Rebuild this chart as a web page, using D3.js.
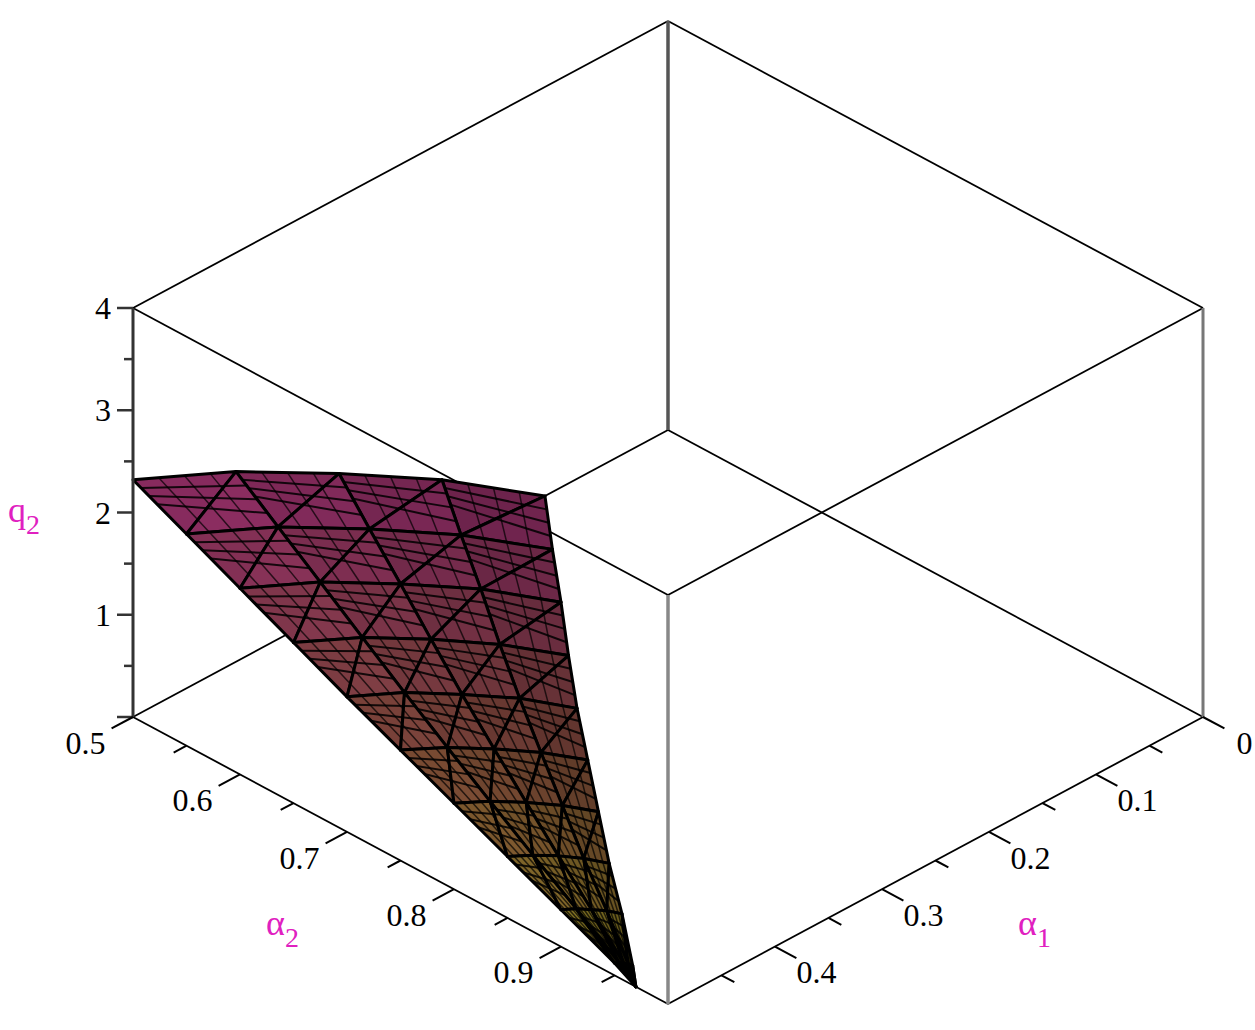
<!DOCTYPE html>
<html><head><meta charset="utf-8">
<script src="https://cdn.jsdelivr.net/npm/d3@7"></script>
<style>body{margin:0;background:#fff}</style></head>
<body><svg id="c" width="1255" height="1030"></svg>
<script>
// ---- data ----
const alpha2Rows = [0.50,0.55,0.60,0.65,0.70,0.75,0.80,0.85,0.90,0.95,0.97];
// alpha1 where the surface meets q2 = 0, per alpha2 row
const alpha1Zero = [0.115,0.158,0.200,0.243,0.285,0.325,0.365,0.405,0.443,0.483,0.500];
// q2 values per row, at 5 evenly spaced alpha1 from alpha1Zero to 0.5
const q2Grid = [
 [0,0.70,1.30,1.86,2.32],
 [0,0.62,1.16,1.66,2.07],
 [0,0.55,1.02,1.46,1.82],
 [0,0.47,0.88,1.26,1.57],
 [0,0.40,0.74,1.06,1.32],
 [0,0.32,0.60,0.86,1.08],
 [0,0.25,0.47,0.67,0.84],
 [0,0.18,0.34,0.48,0.60],
 [0,0.11,0.20,0.29,0.36],
 [0,0.04,0.07,0.10,0.12],
 [0,0,0,0,0]
];
const zTicks = [1,2,3,4];
const a1Ticks = [0,0.1,0.2,0.3,0.4];
const a2Ticks = [0.5,0.6,0.7,0.8,0.9];

const svg = d3.select("#c");
const su = d3.scaleLinear().domain([0.5,1]).range([0,1]);
const sv = d3.scaleLinear().domain([0,0.5]).range([0,1]);
const sz = d3.scaleLinear().domain([0,4]).range([0,409]);
function P(a1,a2,z){const u=su(a2),v=sv(a1);return [668+535*(u-v),430+287*(u+v)-sz(z)];}
const line=(a,b,st,w)=>svg.append("line").attr("x1",a[0]).attr("y1",a[1]).attr("x2",b[0]).attr("y2",b[1]).attr("stroke",st).attr("stroke-width",w);

// box
const C=[[0,0.5],[0.5,0.5],[0.5,1],[0,1]];
for(let i=0;i<4;i++){const a=C[i],b=C[(i+1)%4];
  line(P(a[0],a[1],0),P(b[0],b[1],0),"#000",1.8);
  line(P(a[0],a[1],4),P(b[0],b[1],4),"#000",1.8);
}
line(P(0,0.5,0),P(0,0.5,4),"#555",3.5);
line(P(0,1,0),P(0,1,4),"#777",3);

// surface
const cTop=d3.interpolateRgb("#8e2a66","#7a4636"), cBot=d3.interpolateRgb("#7a4636","#8c8a1e");
function col(t,s){const c=d3.color(t<0.5?cTop(t*2):cBot((t-0.5)*2));return c.darker(0.8*(1-s)).toString();}
const g=svg.append("g");
const pts=alpha2Rows.map((a2,i)=>q2Grid[i].map((z,j)=>{const a1=alpha1Zero[i]+j/4*(0.5-alpha1Zero[i]);return P(a1,a2,z);}));
const lerp=(a,b,f)=>[a[0]+(b[0]-a[0])*f,a[1]+(b[1]-a[1])*f];
for(let i=0;i<alpha2Rows.length-1;i++)for(let j=0;j<4;j++){
  const p00=pts[i][j],p01=pts[i][j+1],p10=pts[i+1][j],p11=pts[i+1][j+1];
  const t=(i+0.5)/(alpha2Rows.length-1), s=(j+0.5)/4;
  [[p00,p01,p11],[p00,p11,p10]].forEach((tri,k)=>{
    g.append("path").attr("d","M"+tri.join("L")+"Z").attr("fill",col(t,s+0.1*k))
     .attr("stroke","#000").attr("stroke-width",3).attr("stroke-linejoin","round");
  });
  for(let h=1;h<4;h++){const f=h/4;
    line(lerp(p00,p10,f),lerp(p01,p11,f*0.6),"#000",2).attr("opacity",0.85);
    line(lerp(p00,p01,f),lerp(p10,p11,f),"#000",1.5).attr("opacity",0.7);
  }
}
// front vertical edge
line(P(0.5,1,0),P(0.5,1,4),"#888",3.5);

// z axis (left vertical edge)
line(P(0.5,0.5,0),P(0.5,0.5,4),"#333",3);
const font="'Liberation Serif', 'DejaVu Serif', serif";
for(let k=0;k<=8;k++){const z=k*0.5,p=P(0.5,0.5,z);line(p,[p[0]-(k%2?9:16),p[1]],"#333",2.5);}
zTicks.forEach(z=>{const p=P(0.5,0.5,z);svg.append("text").attr("x",p[0]-22).attr("y",p[1]+11).attr("text-anchor","end").attr("font-family",font).attr("font-size",32).text(z);});
// alpha2 axis ticks
for(let k=0;k<10;k++){const a=0.5+k*0.05,p=P(0.5,a,0),q=P(0.5+(k%2?0.012:0.02),a,0);line(p,q,"#000",2);}
a2Ticks.forEach(a=>{const p=P(0.5+0.05,a,0);svg.append("text").attr("x",p[0]+6).attr("y",p[1]+8).attr("text-anchor","middle").attr("font-family",font).attr("font-size",32).text(a);});
// alpha1 axis ticks
for(let k=0;k<10;k++){const a=k*0.05,p=P(a,1,0),q=P(a,1+(k%2?0.012:0.02),0);line(p,q,"#000",2);}
a1Ticks.forEach(a=>{const p=P(a,1.05,0);svg.append("text").attr("x",p[0]-12).attr("y",p[1]+8).attr("text-anchor","middle").attr("font-family",font).attr("font-size",32).text(a);});
// axis titles
function title(x,y,base,sub){const t=svg.append("text").attr("x",x).attr("y",y).attr("fill","#e020c0").attr("font-family",font).attr("font-size",36);
 t.append("tspan").text(base);t.append("tspan").attr("dy",12).attr("font-size",28).text(sub);}
title(8,522,"q","2");
title(266,935,"α","2");
title(1018,935,"α","1");
</script></body></html>
